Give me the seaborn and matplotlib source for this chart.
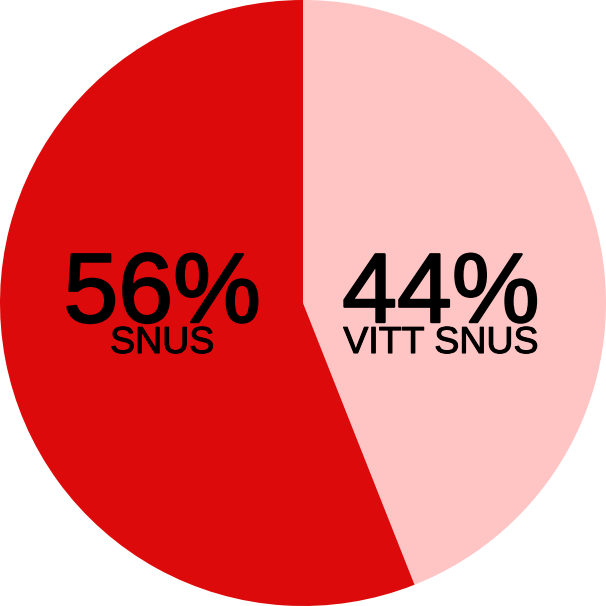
import matplotlib
matplotlib.use("Agg")
import matplotlib.pyplot as plt
import matplotlib.patheffects as pe
import seaborn as sns

sns.set_theme(style="white")
plt.rcParams['font.family'] = ['Liberation Sans', 'DejaVu Sans']

labels = ['VITT SNUS', 'SNUS']
shares = [44, 56]
colors = ['#ffc5c5', '#dc0a0a']

fig = plt.figure(figsize=(6.06, 6.06), dpi=100)
ax = fig.add_axes([0, 0, 1, 1])
ax.pie(shares, colors=colors, startangle=90, counterclock=False,
       radius=1.0, wedgeprops=dict(linewidth=0))
ax.set_xlim(-1, 1)
ax.set_ylim(-1, 1)
ax.set_aspect('equal')
ax.axis('off')

# a thin stroke makes the regular face look a bit heavier, like the original
heavy = [pe.withStroke(linewidth=1.6, foreground='black')]

# text spots for each slice (pink on the right, red on the left)
text_x = [0.455, -0.465]
for x, val, lab in zip(text_x, shares, labels):
    ax.text(x, -0.063, f'{val}%', ha='center', va='baseline',
            fontsize=71, color='black', path_effects=heavy)
    ax.text(x, -0.165, lab, ha='center', va='baseline',
            fontsize=27, color='black',
            path_effects=[pe.withStroke(linewidth=0.8, foreground='black')])

fig.savefig('out.png', dpi=100)
